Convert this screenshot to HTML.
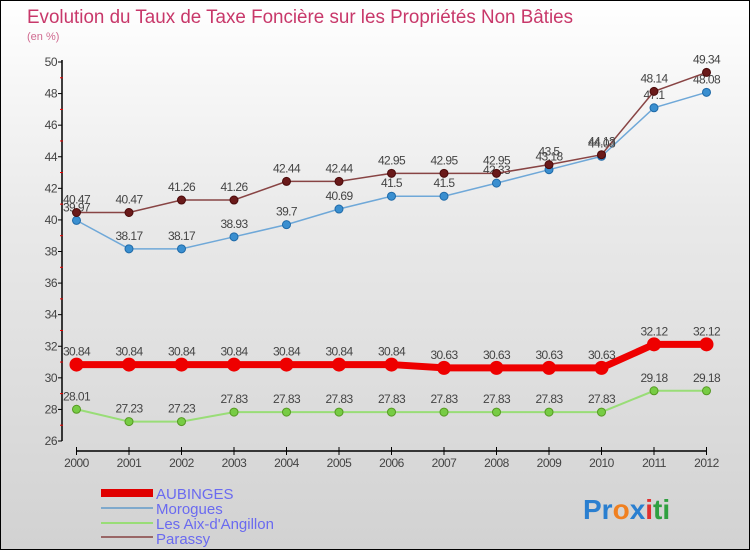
<!DOCTYPE html>
<html><head><meta charset="utf-8"><style>
body{margin:0;}
#wrap{width:748px;height:548px;border:1px solid #000;background:linear-gradient(#ffffff,#e9e9e9 40%,#d2d2d2);position:relative;overflow:hidden;font-family:"Liberation Sans",sans-serif;}
</style></head><body>
<div id="wrap">
<svg id="chart" width="748" height="548">
<text x="26" y="22" font-size="19" fill="#c8386a" textLength="546" lengthAdjust="spacingAndGlyphs">Evolution du Taux de Taxe Foncière sur les Propriétés Non Bâties</text>
<text x="26" y="39" font-size="11" fill="#d06a90">(en %)</text>
<g id="axes"></g><g id="series"></g>
<g>
<rect x="100" y="488" width="52" height="8" fill="#e00000"/>
<text x="155" y="498" font-size="15" fill="#6a6af0">AUBINGES</text>
<rect x="100" y="506" width="52" height="2" fill="#7fa9cc"/>
<text x="155" y="513" font-size="15" fill="#6a6af0">Morogues</text>
<rect x="100" y="521" width="52" height="2" fill="#99dd77"/>
<text x="155" y="528" font-size="15" fill="#6a6af0">Les Aix-d'Angillon</text>
<rect x="100" y="535" width="52" height="2" fill="#996666"/>
<text x="155" y="543" font-size="15" fill="#6a6af0">Parassy</text>
</g>
<text x="582" y="518" font-size="28" font-weight="bold"><tspan fill="#2a7fd0">Pr</tspan><tspan fill="#f08020">o</tspan><tspan fill="#2a7fd0">x</tspan><tspan fill="#e03030">i</tspan><tspan fill="#30a040">ti</tspan></text>
</svg></div>
<script>
const years=["2000","2001","2002","2003","2004","2005","2006","2007","2008","2009","2010","2011","2012"];
const yTicks=[26,28,30,32,34,36,38,40,42,44,46,48,50];
const aubinges=[30.84,30.84,30.84,30.84,30.84,30.84,30.84,30.63,30.63,30.63,30.63,32.12,32.12];
const morogues=[39.97,38.17,38.17,38.93,39.7,40.69,41.5,41.5,42.33,43.18,44.03,47.1,48.08];
const aix=[28.01,27.23,27.23,27.83,27.83,27.83,27.83,27.83,27.83,27.83,27.83,29.18,29.18];
const parassy=[40.47,40.47,41.26,41.26,42.44,42.44,42.95,42.95,42.95,43.5,44.13,48.14,49.34];
const NS="http://www.w3.org/2000/svg";
function X(i){return 75.5+i*(705.5-75.5)/(years.length-1);}
function Y(v){return 440-(v-26)*(440-61)/24;}
function mk(tag,attrs,parent,txt){const e=document.createElementNS(NS,tag);for(const k in attrs)e.setAttribute(k,attrs[k]);if(txt!==undefined)e.textContent=txt;parent.appendChild(e);return e;}
const ax=document.getElementById('axes');
let l=mk('line',{x1:61,y1:Y(50)-2,x2:61,y2:440,stroke:'#000','stroke-width':1.5},ax);


yTicks.forEach(t=>{
 let tk=mk('line',{x1:57,x2:61,y1:Y(t),y2:Y(t),stroke:'#000'},ax);
 
 
 if(t<50){let m=mk('line',{x1:59,x2:62,y1:Y(t+1),y2:Y(t+1),stroke:'#e00'},ax);
 
 }
 let tx=mk('text',{x:56,y:Y(t)+4,'font-size':12,fill:'#444','text-anchor':'end','letter-spacing':'-0.5'},ax,String(t));
 
 
});
let xl=mk('line',{x1:X(0),x2:X(12),y1:450,y2:450,stroke:'#000','stroke-width':1.5},ax);


years.forEach((y,i)=>{
 let tk=mk('line',{x1:X(i),x2:X(i),y1:446,y2:454,stroke:'#000'},ax);
 
 
 let tx=mk('text',{x:X(i),y:466,'font-size':12,fill:'#444','text-anchor':'middle','letter-spacing':'-0.5'},ax,y);
 
 
});
const sg=document.getElementById('series');
function series(vals,name,color,lw,r,mcol,stroke){
 const g=mk('g',{},sg);
 
 
 const p=mk('polyline',{points:vals.map((v,i)=>X(i)+','+Y(v)).join(' '),fill:'none',stroke:color,'stroke-width':lw},g);
 
 
 vals.forEach((v,i)=>{
  const c=mk('circle',{cx:X(i),cy:Y(v),r:r,fill:mcol,stroke:stroke,'stroke-width':1},g);
  
  
  const t=mk('text',{x:X(i),y:Y(v)-9,'font-size':12,fill:'#444','text-anchor':'middle','letter-spacing':'-0.6'},g,String(v));
  
  
 });
}
series(aix,'aix','#99dd77',2,4,'#77cc44','#559922');
series(morogues,'morogues','#6fa8d8',1.5,4,'#3a8fd0','#1f6aa8');
series(parassy,'parassy','#884444',1.5,4,'#6a1a1a','#4a0a0a');
series(aubinges,'aubinges','#ee0000',7,6.5,'#ee0000','#ee0000');
</script>
</body></html>
